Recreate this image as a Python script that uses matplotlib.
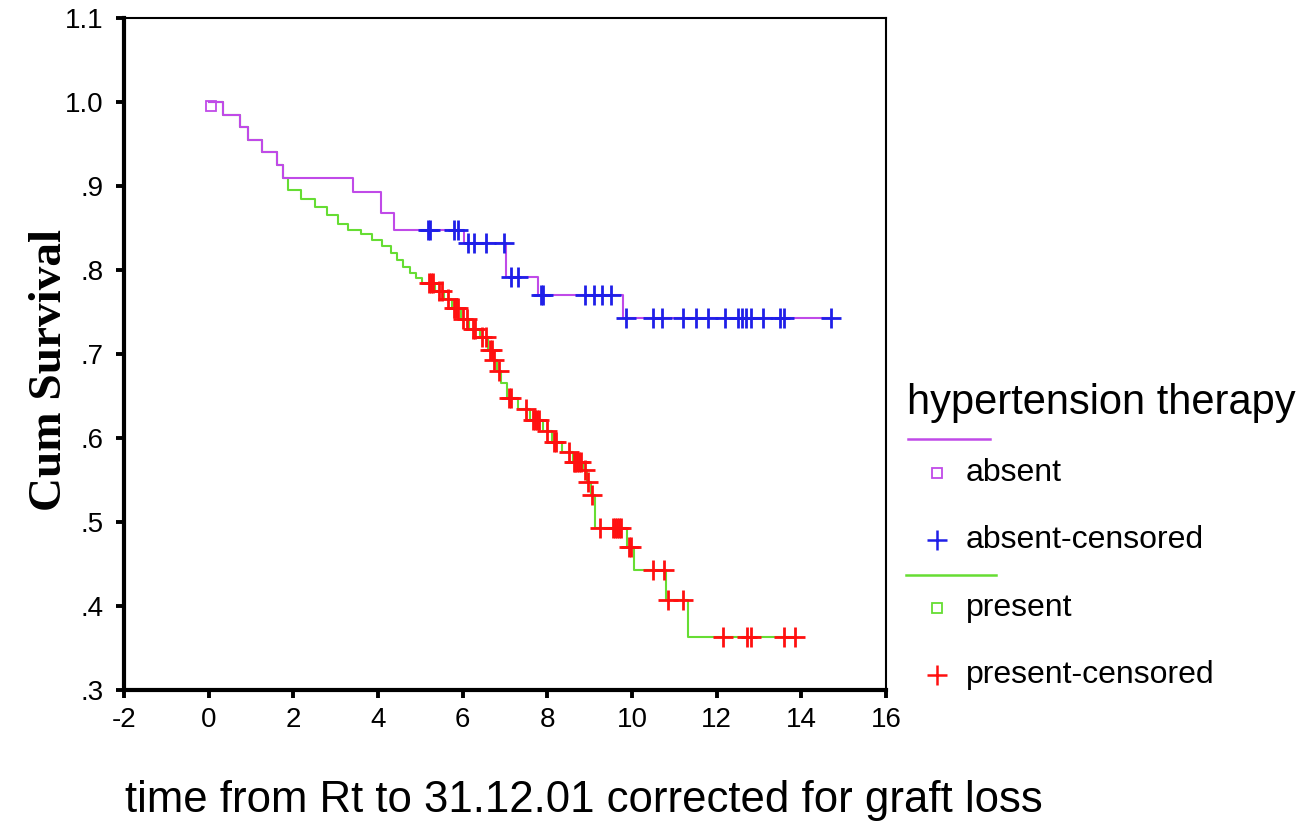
import numpy as np
import matplotlib
matplotlib.use("Agg")
import matplotlib.pyplot as plt
from matplotlib.lines import Line2D

# ---------------- data ----------------
# absent group (hypertension therapy absent): event times and survival after each event
absent_event_t = [0.34, 0.74, 0.93, 1.27, 1.62, 1.76, 3.42, 4.06, 4.37, 6.02, 7.02, 7.78, 9.79]
absent_event_s = [0.985, 0.970, 0.955, 0.940, 0.925, 0.910, 0.893, 0.868, 0.848, 0.832, 0.792, 0.770, 0.743]
absent_censored_t = [5.17, 5.22, 5.79, 5.88, 6.12, 6.26, 6.54, 6.97, 7.15, 7.30, 7.85, 7.90,
                     8.90, 9.10, 9.30, 9.50, 9.86, 10.50, 10.70, 11.20, 11.50, 11.80, 12.20,
                     12.50, 12.60, 12.70, 12.80, 13.10, 13.50, 13.60, 14.70]

# present group
present_event_t = [0.34, 0.74, 0.93, 1.27, 1.62, 1.76, 1.88, 2.17, 2.50, 2.80, 3.05, 3.30, 3.60,
                   3.85, 4.10, 4.30, 4.45, 4.60, 4.75, 4.90, 5.05, 5.35, 5.55, 5.75, 5.95, 6.15,
                   6.40, 6.60, 6.72, 6.80, 6.90, 7.05, 7.30, 7.60, 7.90, 8.10, 8.35, 8.60, 8.85,
                   8.93, 9.02, 9.12, 9.88, 10.05, 10.80, 11.33]
present_event_s = [0.985, 0.970, 0.955, 0.940, 0.925, 0.910, 0.895, 0.885, 0.875, 0.865, 0.855,
                   0.848, 0.843, 0.836, 0.828, 0.820, 0.812, 0.804, 0.796, 0.790, 0.785, 0.775,
                   0.765, 0.755, 0.742, 0.730, 0.720, 0.705, 0.693, 0.680, 0.665, 0.648, 0.635,
                   0.622, 0.608, 0.595, 0.583, 0.572, 0.562, 0.548, 0.532, 0.493, 0.470, 0.443,
                   0.407, 0.363]
present_censored_t = [5.20, 5.25, 5.30, 5.45, 5.50, 5.65, 5.80, 5.85, 5.90, 6.00, 6.10, 6.25,
                      6.30, 6.45, 6.55, 6.65, 6.70, 6.75, 6.85, 7.10, 7.15, 7.50, 7.65, 7.70,
                      7.75, 7.80, 8.00, 8.15, 8.20, 8.50, 8.62, 8.66, 8.70, 8.75, 8.80, 8.90,
                      8.97, 9.05, 9.25, 9.55, 9.60, 9.65, 9.70, 9.75, 9.92, 9.97, 10.50, 10.75,
                      10.85, 11.20, 12.15, 12.72, 12.80, 13.60, 13.85]

x_ticks = [-2, 0, 2, 4, 6, 8, 10, 12, 14, 16]
y_ticks = [0.3, 0.4, 0.5, 0.6, 0.7, 0.8, 0.9, 1.0, 1.1]
y_tick_labels = [".3", ".4", ".5", ".6", ".7", ".8", ".9", "1.0", "1.1"]

legend_title = "hypertension therapy"
legend_labels = ["absent", "absent-censored", "present", "present-censored"]

# ---------------- style ----------------
c_absent = "#c04ae8"
c_absent_cens = "#1f1fe8"
c_present = "#66dd33"
c_present_cens = "#ff1010"

W, H = 1311, 822
fig = plt.figure(figsize=(W / 100, H / 100), dpi=100)
plt.rcParams['font.family'] = ['Liberation Sans', 'DejaVu Sans']
ax = fig.add_axes([124 / W, 1 - 690 / H, (886 - 124) / W, (690 - 18) / H])


def curve(ev_t, ev_s, cens_t):
    end = max(cens_t[-1], ev_t[-1])
    t = np.concatenate([[0.0], ev_t, [end]])
    s = np.concatenate([[1.0], ev_s, [ev_s[-1]]])
    full_s = np.concatenate([[1.0], ev_s])
    idx = np.searchsorted(np.asarray(ev_t), np.asarray(cens_t), side='right')
    return t, s, np.asarray(cens_t), full_s[idx]


tp, sp, cpx, cpy = curve(present_event_t, present_event_s, present_censored_t)
ta, sa, cax, cay = curve(absent_event_t, absent_event_s, absent_censored_t)

ax.step(tp, sp, where='post', color=c_present, lw=1.5, zorder=2)
ax.step(ta, sa, where='post', color=c_absent, lw=1.5, zorder=3)
ax.plot(cpx, cpy, ls='none', marker='+', color=c_present_cens, ms=14, mew=2.0, zorder=4)
ax.plot(cax, cay, ls='none', marker='+', color=c_absent_cens, ms=14, mew=2.0, zorder=5)
ax.plot([0.05], [0.995], ls='none', marker='s', mfc='none', mec=c_absent, ms=7, mew=1.3, zorder=6)

ax.set_xlim(-2, 16)
ax.set_ylim(0.3, 1.1)
ax.set_xticks(x_ticks)
ax.set_xticklabels([str(v) for v in x_ticks])
ax.set_yticks(y_ticks)
ax.set_yticklabels(y_tick_labels)
ax.tick_params(axis='both', direction='out', length=6, width=2.8, labelsize=20, colors='black')
ax.tick_params(axis='y', pad=9)
ax.tick_params(axis='x', pad=6)
for side in ['left', 'bottom']:
    ax.spines[side].set_linewidth(3.0)
for side in ['top', 'right']:
    ax.spines[side].set_linewidth(1.5)

# axis labels
fig.text(50 / W, 1 - 370 / H, "Cum Survival", rotation=90, ha='center', va='center',
         fontsize=34, fontweight='bold', family=['Liberation Serif', 'DejaVu Serif'])
fig.text(125 / W, 1 - 800 / H, "time from Rt to 31.12.01 corrected for graft loss",
         ha='left', va='center', fontsize=31.5)

# legend (manual)
fig.text(907 / W, 1 - 403 / H, legend_title, ha='left', va='center', fontsize=30)
fig.add_artist(Line2D([908 / W, 990 / W], [1 - 439 / H, 1 - 439 / H], color=c_absent, lw=1.8,
                      transform=fig.transFigure))
fig.add_artist(Line2D([906 / W, 996 / W], [1 - 575 / H, 1 - 575 / H], color=c_present, lw=1.8,
                      transform=fig.transFigure))
rows = [(473, 's', c_absent), (540, '+', c_absent_cens), (608, 's', c_present), (675, '+', c_present_cens)]
for (py, mk, col), lab in zip(rows, legend_labels):
    if mk == 's':
        fig.add_artist(Line2D([937 / W], [1 - py / H], marker='s', mfc='none', mec=col, ms=7, mew=1.3,
                              ls='none', transform=fig.transFigure))
    else:
        fig.add_artist(Line2D([937 / W], [1 - py / H], marker='+', color=col, ms=15, mew=1.8,
                              ls='none', transform=fig.transFigure))
    fig.text(966 / W, 1 - py / H, lab, ha='left', va='center', fontsize=23)

fig.savefig("out.png", dpi=100)
